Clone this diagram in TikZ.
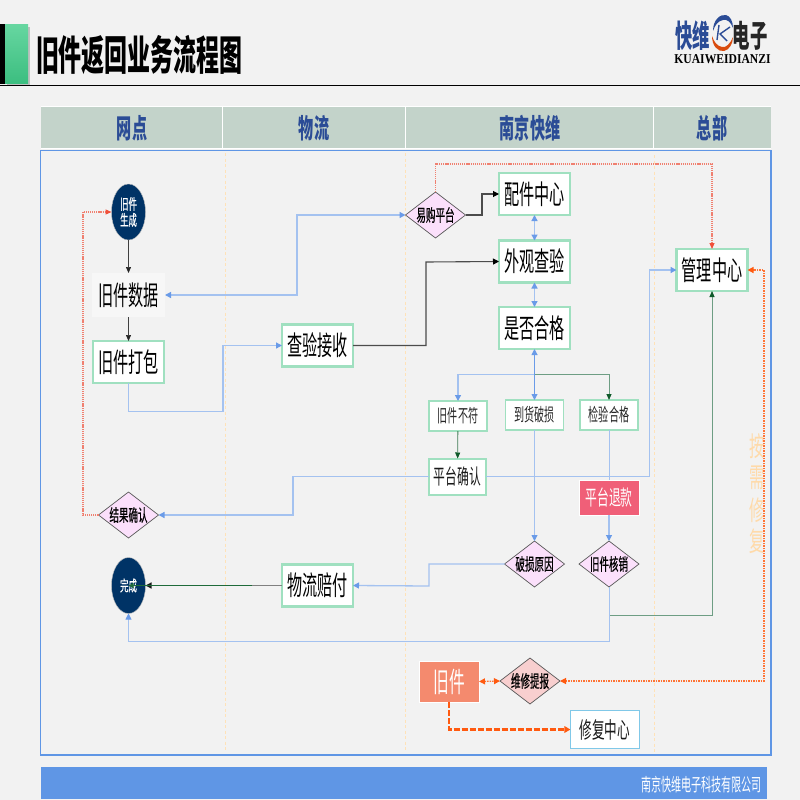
\documentclass[tikz,border=0pt]{standalone}
\usepackage{fontspec}
\usetikzlibrary{arrows.meta,shapes.geometric}
\newfontfamily\cjk[FakeStretch=0.56]{Noto Sans CJK SC}
\newfontfamily\cjkm[FakeStretch=0.56,FakeBold=0.6]{Noto Sans CJK SC}
\newfontfamily\logoserif[FakeStretch=0.86]{Liberation Serif}
\newcommand{\fs}[1]{\fontsize{#1}{#1}\selectfont}
\definecolor{bgc}{HTML}{F2F2F2}
\definecolor{hdr}{HTML}{C3D3CA}
\definecolor{hdrt}{HTML}{2B4C96}
\definecolor{fr}{HTML}{5F96E5}
\definecolor{lane}{HTML}{FFE2B8}
\definecolor{navy}{HTML}{003366}
\definecolor{mint}{HTML}{A0E0C0}
\definecolor{pinkd}{HTML}{FBE0FB}
\definecolor{lbl}{HTML}{A4C2F0}
\definecolor{tipb}{HTML}{6A9BE8}
\definecolor{dgr}{HTML}{6E9E84}
\definecolor{tipg}{HTML}{0F5A2A}
\definecolor{midg}{HTML}{1F6B3A}
\definecolor{redd}{HTML}{F08070}
\definecolor{tipr}{HTML}{F0503A}
\definecolor{org}{HTML}{FF5A10}
\definecolor{gtop}{HTML}{66D6A0}
\definecolor{gbot}{HTML}{3CBE80}
\definecolor{refc}{HTML}{F05F78}
\definecolor{repc}{HTML}{F8CFCF}
\definecolor{oldc}{HTML}{F48A6E}
\definecolor{fixc}{HTML}{80C8E8}
\tikzset{
  x=1pt,y=-1pt,
  base/.style={inner sep=0pt,outer sep=0pt,align=center},
  lanehead/.style={base,font=\cjk\bfseries\fs{27},text=hdrt},
  whitebox/.style={base,fill=white,draw=mint,line width=2.2pt,font=\cjk\fs{27},text=black,minimum width=71pt,minimum height=42pt},
  smallbox/.style={base,fill=white,draw=mint,line width=2pt,font=\cjk\fs{18},text=black!85,minimum width=58pt,minimum height=30pt},
  midbox/.style={base,fill=white,draw=mint,line width=2pt,font=\cjk\fs{21},text=black!90,minimum width=57pt,minimum height=36pt},
  chk/.style={base,diamond,aspect=1.3,draw=black!65,line width=.7pt,fill=pinkd,font=\cjkm\fs{17},text=black,minimum width=60pt,minimum height=46pt,inner sep=-3pt},
  term/.style={base,ellipse,fill=navy,draw=black!25,line width=.4pt,text=white,font=\cjkm\fs{15},minimum width=34pt,minimum height=56pt,inner sep=-4pt},
  blueline/.style={draw=lbl,line width=1.3pt,-{Triangle[length=6pt,width=6pt,color=tipb]}},
  bluelinethin/.style={draw=lbl,line width=.9pt,-{Triangle[length=6pt,width=6pt,color=tipb]}},
  bluelinetwo/.style={draw=lbl,line width=1.3pt,{Triangle[length=6pt,width=6pt,color=tipb]}-{Triangle[length=6pt,width=6pt,color=tipb]}},
  blacktip/.style={draw=black!70,line width=1.1pt,-{Triangle[length=6pt,width=6pt,color=black]}},
  thinblack/.style={draw=black!75,line width=.7pt,-{Triangle[length=6pt,width=5pt,color=black!85]}},
  greenline/.style={draw=dgr,line width=1pt,-{Triangle[length=6pt,width=5pt,color=tipg]}},
  reddot/.style={draw=redd,line width=1.1pt,dash pattern=on 1.2pt off .9pt,-{Triangle[length=6pt,width=5pt,color=tipr]}},
  orgdot/.style={draw=org!85,line width=1.2pt,dash pattern=on 1.4pt off 1.1pt,{Triangle[length=6pt,width=6pt,color=org]}-{Triangle[length=6pt,width=6pt,color=org]}},
  orgdash/.style={draw=org,line width=2.5pt,dash pattern=on 6pt off 2pt,-{Triangle[length=6pt,width=6.5pt,color=org]}},
  lanesep/.style={draw=lane,line width=1pt,dash pattern=on 3pt off 2.5pt},
}
\begin{document}
\begin{tikzpicture}
\useasboundingbox (0,0) rectangle (800,800);
\fill[bgc] (0,0) rectangle (800,800);
% title band
\fill[black!25] (7,27) rectangle (29.5,85);
\fill[black] (0,24) rectangle (5,84);
\shade[top color=gtop,bottom color=gbot] (5,25) rectangle (28,83);
\draw[black,line width=.8pt] (0,85.5) -- (800,85.5);
\node[base,anchor=west,font=\cjk\bfseries\fs{41},text=black] (title) at (36,55) {旧件返回业务流程图};
% logo
\node[base,font=\cjk\bfseries\fs{31},text=hdrt] (logoa) at (692.5,36) {快维};
\node[base,font=\cjk\bfseries\fs{31},text=black!85] (logob) at (750,36) {电子};
\node[base,font=\logoserif\bfseries\fs{13.5},text=black] (logoc) at (722.5,59.5) {KUAIWEIDIANZI};
\fill[hdrt] (713,31) .. controls (713,20) and (720,14) .. (726,15) .. controls (730,16) and (733,21) .. (733,28) .. controls (731,22) and (727,19) .. (723,20) .. controls (718,21) and (715,25) .. (713,31) -- cycle;
\fill[org!85!black] (712,36) .. controls (712,46) and (718,52) .. (724,51) .. controls (729,50) and (733,44) .. (733,37) .. controls (730,44) and (726,48) .. (722,47) .. controls (717,46) and (714,42) .. (712,36) -- cycle;
\draw[hdrt,line width=1.4pt] (719,25) -- (717,40) (730,27) -- (720,34) -- (727,41);
% header
\fill[hdr] (41,107) rectangle (771,148);
\draw[white,line width=1pt] (41,106.7) -- (771,106.7) (222.5,107) -- (222.5,148) (405.5,107) -- (405.5,148) (653.5,107) -- (653.5,148) (41,148) -- (771,148);
\node[lanehead] (h1) at (132,128) {网点};
\node[lanehead] (h2) at (314,128) {物流};
\node[lanehead] (h3) at (530,128) {南京快维};
\node[lanehead] (h4) at (712,128) {总部};
% frame
\draw[fr,line width=1.3pt] (40.5,150.5) rectangle (771,755);
\draw[lanesep] (225,153) -- (225,750);
\draw[lanesep] (405.5,153) -- (405.5,752);
\draw[lanesep] (654,155) -- (654,752);
% footer
\fill[fr] (41,767) rectangle (767,799);
\node[base,anchor=east,font=\cjk\fs{18},text=white] (foot) at (762,785) {南京快维电子科技有限公司};
% side text
\node[base,font=\cjk\fs{27},text=lane!92!orange] (s1) at (757.5,446) {按};
\node[base,font=\cjk\fs{27},text=lane!92!orange] (s2) at (757.5,478) {需};
\node[base,font=\cjk\fs{27},text=lane!92!orange] (s3) at (757.5,510) {修};
\node[base,font=\cjk\fs{27},text=lane!92!orange] (s4) at (757.5,541) {复};
% nodes
\node[term] (start) at (128.5,212) {旧件\\[1pt]生成};
\node[base,fill=white!97!black,font=\cjk\fs{27},minimum width=73pt,minimum height=44pt] (data) at (128.5,295) {旧件数据};
\node[whitebox] (pack) at (128.5,362) {旧件打包};
\node[whitebox] (recv) at (317.5,345.5) {查验接收};
\node[whitebox] (parts) at (534.5,194) {配件中心};
\node[whitebox] (look) at (534.5,261.5) {外观查验};
\node[whitebox] (pass) at (534.5,328) {是否合格};
\node[whitebox] (mgr) at (712,270) {管理中心};
\node[chk] (buy) at (435.5,215) {易购平台};
\node[smallbox] (no) at (458,416) {旧件不符};
\node[smallbox,line width=1.6pt] (broke) at (534.5,415) {到货破损};
\node[smallbox,line width=1.6pt] (okk) at (609,415) {检验合格};
\node[midbox] (conf) at (457.5,476.5) {平台确认};
\node[base,fill=refc,font=\cjk\fs{21},text=white,draw=white,line width=.7pt,minimum width=60pt,minimum height=35pt] (refund) at (609,497.5) {平台退款};
\node[chk] (res) at (128.5,515) {结果确认};
\node[chk] (why) at (534.5,564) {破损原因};
\node[chk] (cancel) at (609,564) {旧件核销};
\node[whitebox] (pay) at (317.5,585.5) {物流赔付};
\node[term] (done) at (128.5,585.5) {完成};
\node[chk,fill=repc] (rep) at (530,681) {维修提报};
\node[base,fill=oldc,draw=white,line width=.7pt,font=\cjk\fs{28},text=white,minimum width=60pt,minimum height=41pt] (old) at (449,681.5) {旧件};
\node[base,fill=white,draw=fixc,line width=.9pt,font=\cjk\fs{22.5},text=black!90,minimum width=68.5pt,minimum height=38pt] (fix) at (604.7,729.5) {修复中心};
% bend points
\coordinate (c1) at (223,411.5);
\coordinate (c2) at (426,262);
\coordinate (c3) at (297,215);
\coordinate (c4) at (482,194);
\coordinate (c5) at (435.5,164);
\coordinate (c6) at (534.5,374.5);
\coordinate (c7) at (293,515);
\coordinate (c8) at (649.5,270);
\coordinate (c9) at (83,212);
\coordinate (c10) at (429,586);
\coordinate (c11) at (712,615);
\coordinate (c12) at (128.5,641.5);
\coordinate (c13) at (764,270);
\coordinate (c15) at (252,585.5);
% connectors
\draw[thinblack] (start) -- (data);
\draw[thinblack] (data) -- (pack);
\draw[blueline] (pack.south) |- (c1) |- (recv.west);
\draw[blacktip] (recv.east) -| (c2) -- (look.west);
\draw[bluelinetwo] (data.east) -| (c3) |- (buy.west);
\draw[blacktip] (buy.east) -| (c4) -- (parts.west);
\draw[reddot] (buy.north) |- (c5) -| (mgr.north);
\draw[bluelinetwo] (parts) -- (look);
\draw[bluelinetwo] (look) -- (pass);
\draw[blueline] (c6) -| (no.north);
\draw[greenline] (c6) -| (okk.north);
\draw[draw=tipb,line width=1pt,-{Triangle[length=6pt,width=6pt,color=tipb]}] (c6) -- (pass.south);
\draw[draw=tipb,line width=.9pt,-{Triangle[length=6pt,width=6pt,color=tipb]}] (c6) -- (broke.north);
\draw[draw=tipg!80,line width=.8pt,-{Triangle[length=6pt,width=5pt,color=tipg]}] (no) -- (conf);
\draw[blueline] (conf.west) -| (c7) -- (res.east);
\draw[blueline] (conf.east) -| (c8) -- (mgr.west);
\draw[reddot] (res.west) -| (c9) -- (start.west);
\draw[bluelinethin] (broke) -- (why);
\draw[draw=lbl,line width=1pt] (okk) -- (refund);
\draw[bluelinethin,line width=1.1pt] (refund) -- (cancel);
\draw[blueline] (why.west) -| (c10) -- (pay.east);
\draw[draw=black!50,line width=1.3pt,-{Triangle[length=6pt,width=6pt,color=black!90]}] (pay.west) -- (done.east);
\draw[draw=midg,line width=1.1pt,-{Triangle[length=5pt,width=5pt,color=midg]}] (c15) -- (done.center);
\draw[greenline] (cancel.south) |- (c11) -- (mgr.south);
\draw[bluelinethin] (cancel.south) |- (c12) -- (done.south);
\draw[orgdot] (rep.east) -| (c13) -- (mgr.east);
\draw[orgdot] (old.east) -- (rep.west);
\draw[orgdash] (old.south) |- (fix.west);
\end{tikzpicture}
\end{document}
